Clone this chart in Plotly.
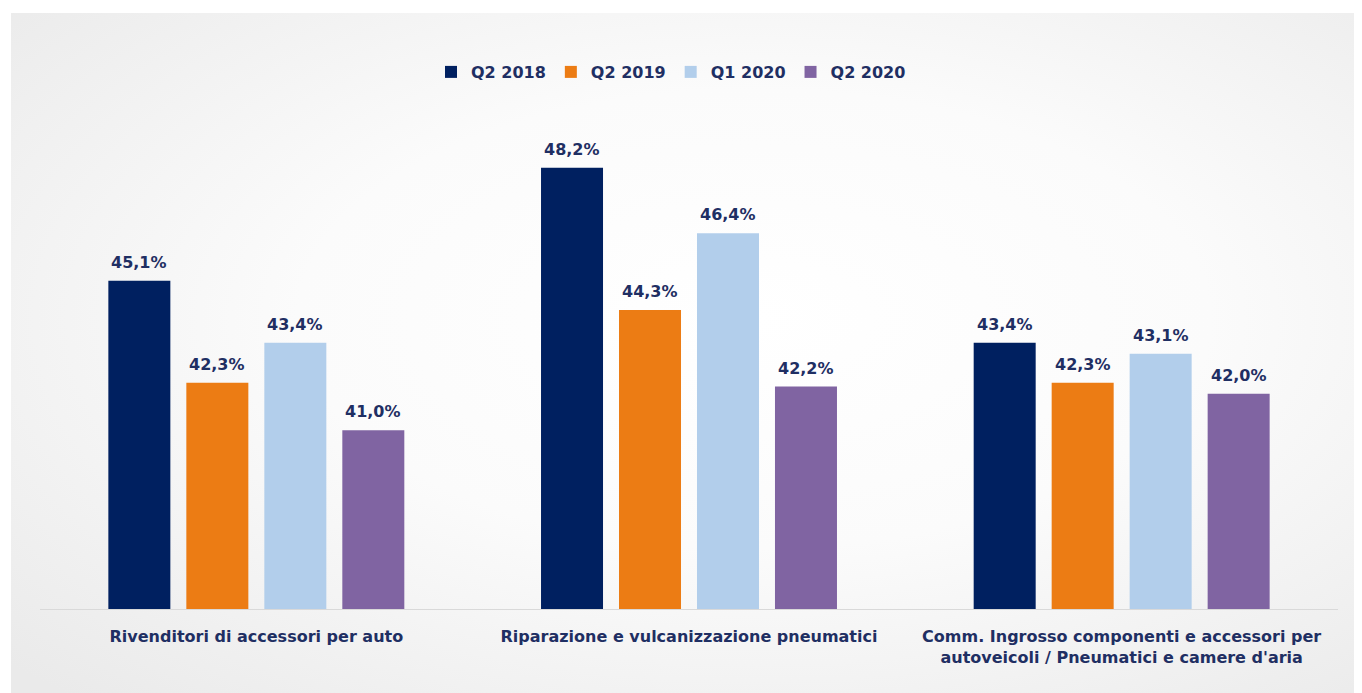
import plotly.graph_objects as go
import urllib.parse

categories = [
    "Rivenditori di accessori per auto",
    "Riparazione e vulcanizzazione pneumatici",
    "Comm. Ingrosso componenti e accessori per<br>autoveicoli / Pneumatici e camere d'aria",
]
series_names = ["Q2 2018", "Q2 2019", "Q1 2020", "Q2 2020"]
q2_2018 = [45.1, 48.2, 43.4]
q2_2019 = [42.3, 44.3, 42.3]
q1_2020 = [43.4, 46.4, 43.1]
q2_2020 = [41.0, 42.2, 42.0]
series_values = [q2_2018, q2_2019, q1_2020, q2_2020]
colors = ["#002060", "#EC7C14", "#B2CEEB", "#8064A2"]

TEXT = "#1F2F63"
FONT = "DejaVu Sans"

W, H = 1354, 685
ML, MR, MT, MB = 32, 24, 94, 84
PW = W - ML - MR
PH = H - MT - MB
BARGAP, GROUPGAP = 0.279, 0.205
slot_px = PW / len(categories) * (1 - BARGAP) / len(series_names)

fig = go.Figure()
annotations = []
for j, (name, vals, col) in enumerate(zip(series_names, series_values, colors)):
    fig.add_trace(go.Bar(
        name=name, x=categories, y=vals, marker_color=col,
        marker_line_width=0,
    ))
    for cat, v in zip(categories, vals):
        annotations.append(dict(
            x=cat, y=v, xref="x", yref="y",
            text=f"{v:.1f}%".replace(".", ","),
            showarrow=False, yanchor="bottom",
            xshift=(j - (len(series_names) - 1) / 2) * slot_px, yshift=7,
            font=dict(family=FONT, size=16, color=TEXT, weight="bold"),
        ))

svg = ("<svg xmlns='http://www.w3.org/2000/svg' width='1351' height='680' viewBox='0 0 1351 680' preserveAspectRatio='none'>"
       "<defs><radialGradient id='g' cx='55%' cy='45%' r='75%'>"
       "<stop offset='0' stop-color='#ffffff'/><stop offset='0.45' stop-color='#fbfbfb'/>"
       "<stop offset='1' stop-color='#eaeaea'/></radialGradient></defs>"
       "<rect width='1351' height='680' fill='url(#g)'/></svg>")
src = "data:image/svg+xml;charset=utf-8," + urllib.parse.quote(svg)

fig.update_layout(
    width=W, height=H,
    margin=dict(l=ML, r=MR, t=MT, b=MB),
    paper_bgcolor="white", plot_bgcolor="rgba(0,0,0,0)",
    barmode="group", bargap=BARGAP, bargroupgap=GROUPGAP,
    font=dict(family=FONT, color=TEXT),
    legend=dict(orientation="h", x=0.5 - 18 / PW, xanchor="center", y=1 + 30 / PH, yanchor="middle",
                font=dict(family=FONT, size=16, color=TEXT, weight="bold"),
                bgcolor="rgba(0,0,0,0)", itemwidth=30),
    xaxis=dict(showline=True, linecolor="#d9d9d9", linewidth=1, ticks="",
               tickfont=dict(family=FONT, size=16, color=TEXT, weight="bold"),
               ticklabelstandoff=13),
    yaxis=dict(range=[36.1, 50], visible=False, showgrid=False, zeroline=False),
    annotations=annotations,
    images=[dict(source=src, xref="paper", yref="paper",
                 x=(3 - ML) / PW, y=(H - MB - 5) / PH,
                 sizex=1351 / PW, sizey=680 / PH,
                 xanchor="left", yanchor="top", sizing="stretch", layer="below")],
)

fig.write_html("out.html")
